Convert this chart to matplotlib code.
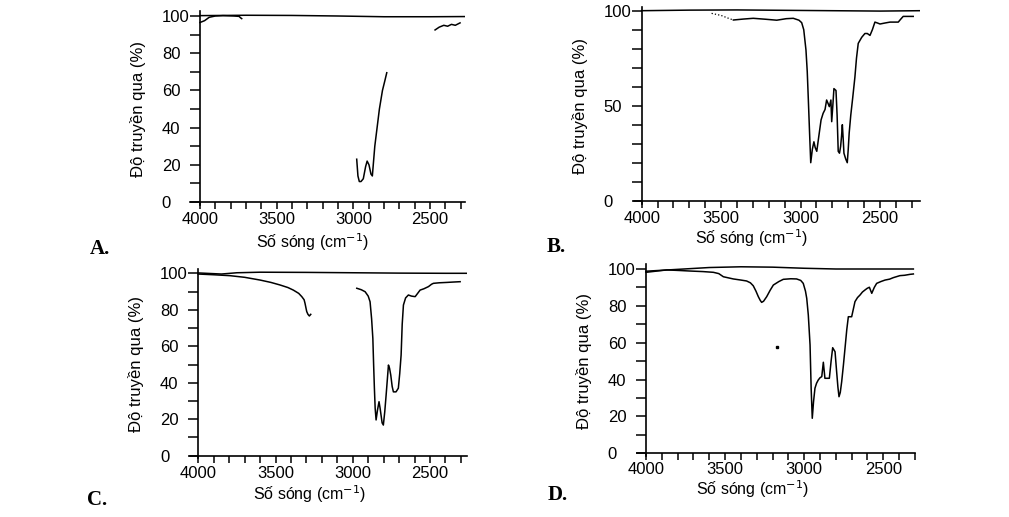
import numpy as np
import matplotlib
matplotlib.use("Agg")
import matplotlib.pyplot as plt

plt.rcParams['font.family'] = ['Liberation Sans', 'DejaVu Sans']

# ---- spectrum A ----
a_top_wn = [4000, 3700, 3400, 3100, 2800, 2500, 2275]
a_top_t = [100.2, 100.4, 100.3, 100.0, 99.6, 99.6, 99.7]
a1_wn = [4000, 3970, 3940, 3900, 3850, 3780, 3745, 3735, 3728]
a1_t = [96.5, 97.5, 99.3, 100.0, 100.2, 100.0, 99.8, 99.0, 98.6]
a2_wn = [2978, 2970, 2961, 2950, 2935, 2920, 2910, 2898, 2885, 2876, 2860, 2830, 2810, 2795, 2782]
a2_t = [23, 14, 11, 11, 12.5, 19, 22, 20, 15, 14, 30, 50, 60, 65, 69.5]
a3_wn = [2467, 2440, 2410, 2385, 2360, 2335, 2304]
a3_t = [92.5, 94, 95, 94.5, 95.5, 95, 96.3]

# ---- spectrum B ----
b_top_wn = [4000, 3700, 3400, 3100, 2800, 2500, 2250]
b_top_t = [100, 100.3, 100.4, 100.2, 100.0, 99.8, 100.0]
b1_wn = [3560, 3500, 3460, 3423]
b1_t = [98.6, 97.5, 96.2, 95.1]
b2_wn = [3423, 3360, 3298, 3220, 3150, 3090, 3046, 3010, 2993, 2980, 2966, 2958, 2951, 2943, 2936,
         2926, 2916, 2908, 2898, 2885, 2871, 2858, 2846, 2836, 2826, 2819, 2809, 2804, 2797, 2790,
         2777, 2770, 2763, 2755, 2748, 2742, 2737, 2732, 2727, 2716, 2706, 2700, 2694, 2684, 2672,
         2658, 2648, 2637, 2615, 2595, 2580, 2563, 2548, 2532, 2515, 2500, 2470, 2437, 2410, 2385,
         2370, 2354, 2320, 2291]
b2_t = [95.1, 95.6, 96.0, 95.5, 95.0, 95.8, 96.0, 95.0, 93.7, 90, 79.3, 68, 53, 35, 20,
        27, 31, 28, 26, 34, 42.5, 46, 48, 53, 51, 49.5, 53, 41.6, 50, 59,
        58, 45, 26, 25, 28.5, 34, 40, 33, 25, 22, 20, 27, 35.6, 45, 54,
        65, 75, 82.8, 86, 88, 88, 87, 90, 94, 93.5, 93, 93.5, 94, 94, 94,
        95.5, 97, 97, 97]

# ---- spectrum C ----
c_top_wn = [4000, 3850, 3750, 3600, 3300, 3000, 2700, 2400, 2265]
c_top_t = [100.2, 99.6, 100.3, 100.6, 100.5, 100.3, 100.1, 100.0, 100.0]
c1_wn = [4000, 3900, 3795, 3700, 3600, 3530, 3471, 3420, 3385, 3350, 3330, 3315, 3309, 3303, 3298, 3290, 3281, 3272]
c1_t = [99.6, 99.2, 98.7, 97.8, 96.3, 95.0, 93.6, 92.2, 90.8, 89.0, 87.2, 85.5, 83.5, 81, 79, 77.5, 76.6, 77.5]
c2_wn = [2974, 2945, 2920, 2900, 2888, 2878, 2870, 2865, 2860, 2855, 2849, 2840, 2830, 2823, 2817,
         2810, 2802, 2793, 2784, 2776, 2769, 2762, 2754, 2745, 2737, 2720, 2705, 2696, 2687, 2680,
         2672, 2658, 2640, 2620, 2596, 2580, 2564, 2540, 2510, 2490, 2478, 2440, 2391, 2350, 2305]
c2_t = [91.8, 91.0, 89.9, 87.5, 84.4, 75, 64.3, 50, 37, 26, 19.6, 25, 29.6, 26, 22.3,
        18, 16.8, 24, 33.3, 42, 49.7, 48, 44.2, 38, 35, 35, 37, 45, 55.2, 72,
        82.6, 86.5, 88.1, 87.5, 87.2, 89, 90.8, 91.5, 92.7, 94, 94.5, 94.8, 95, 95.2, 95.4]

# ---- spectrum D ----
d_top_wn = [4000, 3800, 3600, 3400, 3200, 3000, 2800, 2600, 2400, 2310]
d_top_t = [98.8, 99.8, 100.8, 101.2, 101.0, 100.4, 100.0, 100.0, 100.0, 100.0]
d1_wn = [4000, 3869, 3790, 3722, 3640, 3574, 3540, 3511, 3448, 3400, 3364, 3340, 3322, 3305, 3290,
         3278, 3269, 3257, 3237, 3215, 3195, 3160, 3132, 3085, 3048, 3022, 3006, 2992, 2984, 2974,
         2963, 2956, 2949, 2941, 2932, 2922, 2911, 2900, 2889, 2879, 2869, 2855, 2841, 2830, 2820,
         2805, 2795, 2787, 2780, 2772, 2763, 2752, 2742, 2731, 2721, 2700, 2690, 2679, 2663, 2647,
         2632, 2616, 2602, 2588, 2573, 2557, 2542, 2515, 2489, 2460, 2437, 2395, 2365, 2331, 2310]
d1_t = [98.2, 99.5, 99.2, 98.9, 98.6, 98.2, 97.5, 95.8, 94.6, 94.0, 93.5, 92.5, 90.9, 88, 85,
        83, 81.9, 82.5, 85, 88.5, 91.3, 93.2, 94.4, 94.7, 94.6, 93.8, 92.2, 88, 84.1, 75,
        58.8, 35, 19, 28, 35.3, 38, 39.8, 41, 41.6, 49.4, 40.7, 40.7, 40.7, 50, 57.3,
        55.1, 44.3, 36, 30.7, 33, 38.9, 48, 57, 67, 74.1, 74.1, 78, 82.3, 84.5, 85.9,
        87.5, 88.6, 89.5, 90.1, 86.8, 90, 92.2, 93.2, 94, 94.5, 95.3, 96.4, 96.6, 97.1, 97.3]
d_dot_wn = [3170]
d_dot_t = [57.8]

x_major = [4000, 3500, 3000, 2500]
y_label = 'Độ truyền qua (%)'
x_label = r'Số sóng (cm$^{-1}$)'

W, H = 1009, 517
fig = plt.figure(figsize=(W / 100, H / 100), dpi=100)


def make_axes(px4000, px2500, py0, py100, xlim, ylim, xlab_px, xpad=2.5):
    # place the axes so that the data coordinates land on the given pixels
    sx = (px2500 - px4000) / (2500 - 4000)
    sy = (py100 - py0) / 100.0
    left = px4000 + (xlim[0] - 4000) * sx
    right = px4000 + (xlim[1] - 4000) * sx
    top = py0 + ylim[1] * sy
    bottom = py0 + ylim[0] * sy
    ax = fig.add_axes([left / W, 1 - bottom / H, (right - left) / W, (bottom - top) / H])
    ax.set_xlim(*xlim)
    ax.set_ylim(*ylim)
    ax.patch.set_alpha(0)
    for s in ['top', 'right']:
        ax.spines[s].set_visible(False)
    ax.spines['left'].set_position(('data', 4000))
    ax.spines['bottom'].set_position(('data', 0))
    ax.spines['left'].set_bounds(-1.5, ylim[1])
    for s in ['left', 'bottom']:
        ax.spines[s].set_linewidth(1.2)
    ax.set_xticks(x_major)
    ax.set_xticks(np.arange(4000, xlim[1] - 1, -100), minor=True)
    ax.tick_params(axis='x', which='both', direction='out', length=5, width=1.1, labelsize=12, pad=xpad)
    ax.tick_params(axis='y', which='both', direction='out', length=7, width=1.1, labelsize=12, pad=20.5)
    w, h = right - left, bottom - top
    ax.set_ylabel(y_label, fontsize=12)
    ax.yaxis.set_label_coords((px4000 - 62 - left) / w, (bottom - (py0 + py100) / 2) / h)
    ax.yaxis.label.set_va('center')
    ax.set_xlabel(x_label, fontsize=11.5)
    ax.xaxis.set_label_coords((xlab_px[0] - left) / w, (bottom - xlab_px[1]) / h)
    ax.xaxis.label.set_va('center')
    return ax


def finish_yticks(ax):
    for t in ax.get_yticklabels():
        t.set_horizontalalignment('left')


lw = 1.1
kw = dict(color='black', lw=lw)

# A
axA = make_axes(200, 430, 202, 16, (4065, 2271), (-2, 102.5), (312.7, 241.7))
axA.set_yticks([0, 20, 40, 60, 80, 100])
axA.set_yticks(np.arange(0, 101, 10), minor=True)
axA.plot(a_top_wn, a_top_t, **kw)
axA.plot(a1_wn, a1_t, **kw)
axA.plot(a2_wn, a2_t, **kw)
axA.plot(a3_wn, a3_t, **kw)
finish_yticks(axA)

# B
axB = make_axes(641.7, 880, 200.7, 10.7, (4050, 2249), (-2, 102), (751.7, 238.3))
axB.set_yticks([0, 50, 100])
axB.set_yticks(np.arange(0, 101, 10), minor=True)
axB.plot(b_top_wn, b_top_t, **kw)
axB.plot(b1_wn, b1_t, color='black', lw=0.9, ls=':')
axB.plot(b2_wn, b2_t, **kw)
finish_yticks(axB)

# C
axC = make_axes(198.3, 430, 455.7, 273.3, (4054, 2262), (-2, 102.5), (310, 494))
axC.set_yticks([0, 20, 40, 60, 80, 100])
axC.set_yticks(np.arange(0, 101, 10), minor=True)
axC.plot(c_top_wn, c_top_t, **kw)
axC.plot(c1_wn, c1_t, **kw)
axC.plot(c2_wn, c2_t, **kw)
finish_yticks(axC)

# D
axD = make_axes(646, 883.3, 453.3, 269, (4059, 2300), (-2, 102.5), (753, 489), xpad=1.5)
axD.set_yticks([0, 20, 40, 60, 80, 100])
axD.set_yticks(np.arange(0, 101, 10), minor=True)
axD.plot(d_top_wn, d_top_t, **kw)
axD.plot(d1_wn, d1_t, **kw)
axD.plot(d_dot_wn, d_dot_t, 's', color='black', ms=2)
finish_yticks(axD)

for lab, (px, py) in zip(['A.', 'B.', 'C.', 'D.'], [(100, 249), (556, 247), (97, 500), (558, 495)]):
    fig.text(px / W, 1 - py / H, lab, family='Liberation Serif', fontweight='bold',
             fontsize=15, ha='center', va='center')

fig.savefig('out.png', dpi=100, facecolor='white')
